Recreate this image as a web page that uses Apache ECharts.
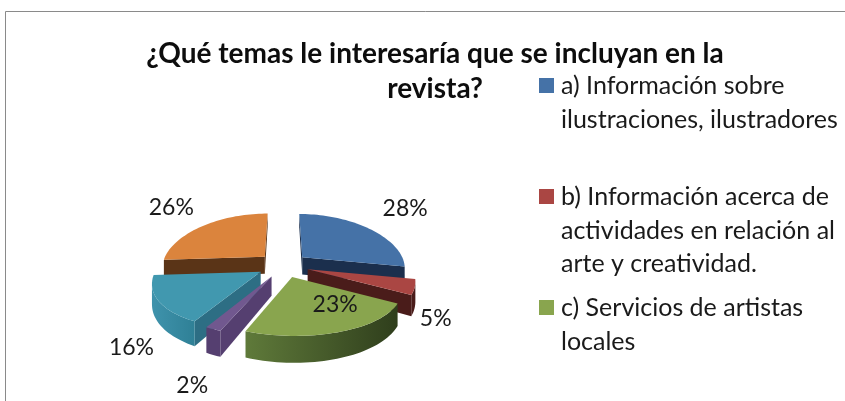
<!DOCTYPE html>
<html>
<head>
<meta charset="utf-8">
<script src="https://cdn.jsdelivr.net/npm/echarts@6/dist/echarts.min.js"></script>
<style>
  html, body { margin: 0; background: #fff; }
  #chart { width: 845px; height: 401px; }
</style>
</head>
<body>
<div id="chart"></div>
<script>
// data
const categories = ['a', 'b', 'c', 'd', 'e', 'f']
const values = [28, 5, 23, 2, 16, 26]
const legendLines = [
  ['a) Información sobre', 'ilustraciones, ilustradores'],
  ['b) Información acerca de', 'actividades en relación al', 'arte y creatividad.'],
  ['c) Servicios de artistas', 'locales']
]
const titleText = '¿Qué temas le interesaría que se incluyan en la\nrevista?'

// styling per slice
const topColors = ['#4572A7', '#AA4643', '#89A54E', '#71588F', '#4198AF', '#DB843D']
const wallFrom = ['#1b2f4d', '#4a1c1a', '#2f3e1c', '#553f70', '#2f8096', '#5a3417']
const wallTo = ['#1b2f4d', '#4a1c1a', '#5f7a3a', '#553f70', '#3f93ac', '#5a3417']
const sideColors = ['#1b2f4d', '#4a1c1a', '#3a4a22', '#553f70', '#2d6e84', '#5a3417']
const drawOrder = [5, 0, 1, 4, 3, 2]
const labelShift = [[36, -20], [21, 32], [-4, -27], [-21, 57], [-27, 47], [-31, -19]]
const legendTop = [78, 189, 300]

// tilted pie projection
const cx = 283, cy = 265, rx = 103, ry = 49.6, perspX = 0.19, perspY = 0.11, explode = 0.25, depth = 18
const total = values.reduce((n, m) => n + m)

function project(x, y, down) {
  const w = 1 - perspX * y
  const sy = cy + ry * y / (1 - perspY * y)
  return [cx + rx * x / w, sy + (down ? depth / Math.pow(w, 1.5) : 0)]
}
function ground(deg, r, mid) {
  const a = deg * Math.PI / 180, m = mid * Math.PI / 180
  return [r * Math.sin(a) + explode * Math.sin(m), -r * Math.cos(a) - explode * Math.cos(m)]
}
function area(pts) {
  let s = 0
  pts.forEach((p, i) => {
    const q = pts[(i + 1) % pts.length]
    s += p[0] * q[1] - q[0] * p[1]
  })
  return s / 2
}
function poly(points, fill) {
  return {
    type: 'polygon',
    shape: { points },
    style: { fill, lineWidth: 0 },
    silent: true
  }
}

function renderSlice(params, api) {
  const idx = api.value(0)
  const before = values.slice(0, idx).reduce((n, m) => n + m, 0)
  const start = before / total * 360
  const end = (before + values[idx]) / total * 360
  const mid = (start + end) / 2
  const steps = Math.max(4, Math.round((end - start) / 2))
  const children = []

  const apex = ground(0, 0, mid)
  const arc = []
  for (let i = 0; i <= steps; i++) arc.push(ground(start + (end - start) * i / steps, 1, mid))

  // the two cut faces, only when they turn to the viewer
  const walls = [[apex, arc[0]], [arc[steps], apex]]
  walls.forEach(w => {
    const pts = [project(w[0][0], w[0][1]), project(w[1][0], w[1][1]),
      project(w[1][0], w[1][1], true), project(w[0][0], w[0][1], true)]
    if (area(pts) < 0) children.push(poly(pts, sideColors[idx]))
  })
  // outer wall, the part of the arc that faces the viewer
  const upper = [], lower = []
  for (let i = 0; i < steps; i++) {
    const p = arc[i], q = arc[i + 1]
    const pts = [project(p[0], p[1]), project(q[0], q[1]), project(q[0], q[1], true), project(p[0], p[1], true)]
    if (area(pts) < 0) {
      if (!upper.length) { upper.push(pts[0]); lower.push(pts[3]) }
      upper.push(pts[1])
      lower.push(pts[2])
    }
  }
  if (upper.length) {
    children.push(poly(upper.concat(lower.reverse()), {
      type: 'linear', x: 1, y: 0, x2: 0, y2: 0,
      colorStops: [{ offset: 0, color: wallFrom[idx] }, { offset: 1, color: wallTo[idx] }]
    }))
  }
  // top face
  children.push(poly([project(apex[0], apex[1])].concat(arc.map(p => project(p[0], p[1]))), topColors[idx]))

  // value label, hung off the middle of the arc
  const m = ground(mid, 1, mid)
  const at = project(m[0], m[1])
  children.push({
    type: 'text',
    silent: true,
    z2: 100,
    style: {
      x: at[0] + labelShift[idx][0],
      y: at[1] + labelShift[idx][1],
      text: values[idx] + '%',
      fill: '#1a1a1a',
      font: '23px Lato',
      align: 'center',
      verticalAlign: 'middle'
    }
  })
  return { type: 'group', children }
}

// legend is laid out by hand: the swatch sits on the first line of a wrapped name
const legendGraphic = []
legendLines.forEach((lines, i) => {
  legendGraphic.push({
    type: 'rect', silent: true,
    shape: { x: 539, y: legendTop[i], width: 15, height: 15 },
    style: { fill: topColors[i] }
  })
  lines.forEach((line, j) => {
    legendGraphic.push({
      type: 'text', silent: true,
      style: {
        x: 561, y: legendTop[i] + 8 + j * 33.5,
        text: line, fill: '#1a1a1a', font: '25px Lato',
        align: 'left', verticalAlign: 'middle'
      }
    })
  })
})

const chart = echarts.init(document.getElementById('chart'), null, { renderer: 'canvas' })
chart.setOption({
  animation: false,
  backgroundColor: '#fff',
  title: {
    text: titleText,
    left: 430,
    top: 31,
    textAlign: 'center',
    textStyle: { fontFamily: 'Lato', fontWeight: 'bold', fontSize: 28, lineHeight: 35, color: '#0d0d0d' }
  },
  graphic: [
    { type: 'line', silent: true, shape: { x1: 5.5, y1: 11.5, x2: 845, y2: 11.5 }, style: { stroke: '#8a8a8a', lineWidth: 1 } },
    { type: 'line', silent: true, shape: { x1: 5.5, y1: 11.5, x2: 5.5, y2: 401 }, style: { stroke: '#8a8a8a', lineWidth: 1 } }
  ].concat(legendGraphic),
  series: [{
    type: 'custom',
    coordinateSystem: 'none',
    clip: false,
    renderItem: renderSlice,
    data: drawOrder.map(i => ({ name: categories[i], value: [i, values[i]] }))
  }]
})
</script>
</body>
</html>
